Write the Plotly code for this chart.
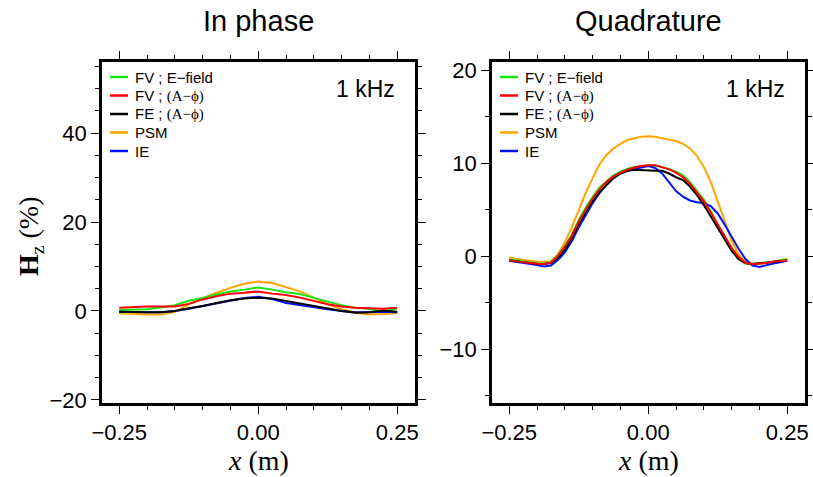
import plotly.graph_objects as go

# ---------------- data ----------------
series_names = ["FV ; E\u2212field",
                "FV ; <span style='font-family:Liberation Serif'>(A\u2212\u03d5)</span>",
                "FE ; <span style='font-family:Liberation Serif'>(A\u2212\u03d5)</span>",
                "PSM", "IE"]
series_colors = ["#14e614", "#ff0000", "#000000", "#ffa500", "#0010ff"]

x_inphase = [-0.25, -0.225, -0.2, -0.175, -0.15, -0.125, -0.1, -0.075, -0.05, -0.025, 0.0,
             0.025, 0.05, 0.075, 0.1, 0.125, 0.15, 0.175, 0.2, 0.225, 0.25]
inphase_fv_efield = [0.2, 0.3, 0.4, 0.8, 1.3, 2.3, 2.9, 3.7, 4.4, 4.8, 5.3,
                     4.8, 4.2, 3.8, 2.9, 2.1, 1.3, 0.7, 0.5, -0.2, 0.6]
inphase_fv_aphi = [0.75, 0.9, 1.0, 1.0, 1.0, 1.6, 2.6, 3.3, 3.9, 4.1, 4.4,
                   3.9, 3.6, 3.0, 2.3, 1.5, 1.0, 0.7, 0.6, 0.5, 0.75]
inphase_fe_aphi = [-0.2, -0.3, -0.3, -0.3, 0.0, 0.6, 1.1, 1.8, 2.4, 2.8, 3.0,
                   2.8, 2.3, 1.7, 1.1, 0.5, 0.0, -0.4, -0.3, 0.1, -0.2]
inphase_psm = [-0.5, -0.7, -0.8, -0.8, -0.2, 1.5, 2.9, 4.1, 5.2, 6.1, 6.6,
               6.3, 5.4, 4.4, 3.0, 1.5, 0.4, -0.4, -0.8, -0.7, -0.5]
inphase_ie = [-0.2, -0.3, -0.3, -0.3, 0.0, 0.5, 1.1, 1.8, 2.4, 2.9, 3.2,
              2.7, 1.8, 1.3, 0.9, 0.4, 0.0, -0.3, -0.3, -0.2, -0.3]

x_quad = [-0.25, -0.2375, -0.225, -0.2125, -0.2, -0.1875, -0.175, -0.1625, -0.15, -0.1375,
          -0.125, -0.1125, -0.1, -0.0875, -0.075, -0.0625, -0.05, -0.0375, -0.025, -0.0125,
          0.0, 0.0125, 0.025, 0.0375, 0.05, 0.0625, 0.075, 0.0875, 0.1, 0.1125,
          0.125, 0.1375, 0.15, 0.1625, 0.175, 0.1875, 0.2, 0.2125, 0.225, 0.2375, 0.25]
quad_fv_efield = [-0.35, -0.45, -0.6, -0.7, -0.75, -0.8, -0.65, 0.1, 1.1, 2.3,
                  3.9, 5.2, 6.4, 7.4, 8.1, 8.7, 9.1, 9.4, 9.6, 9.7,
                  9.8, 9.75, 9.6, 9.4, 9.1, 8.7, 8.0, 7.1, 6.1, 4.9,
                  3.3, 1.9, 0.6, -0.3, -0.8, -0.8, -0.75, -0.7, -0.6, -0.45, -0.35]
quad_fv_aphi = [-0.45, -0.55, -0.65, -0.75, -0.8, -0.85, -0.7, 0.0, 1.0, 2.2,
                3.7, 5.0, 6.2, 7.2, 8.0, 8.6, 9.0, 9.3, 9.55, 9.7,
                9.8, 9.8, 9.6, 9.35, 9.0, 8.5, 7.8, 6.9, 5.9, 4.7,
                3.4, 2.1, 0.9, -0.1, -0.7, -0.85, -0.8, -0.7, -0.6, -0.5, -0.45]
quad_fe_aphi = [-0.45, -0.55, -0.65, -0.75, -0.8, -0.85, -0.75, -0.2, 0.7, 1.9,
                3.4, 4.7, 5.9, 6.9, 7.7, 8.4, 8.9, 9.2, 9.3, 9.25,
                9.2, 9.2, 9.2, 8.9, 8.5, 8.2, 7.5, 6.6, 5.5, 4.3,
                3.1, 1.8, 0.6, -0.3, -0.75, -0.85, -0.8, -0.7, -0.6, -0.5, -0.45]
quad_psm = [-0.15, -0.3, -0.4, -0.5, -0.6, -0.6, -0.55, 0.2, 1.5, 3.1,
            5.0, 6.8, 8.4, 9.9, 10.9, 11.6, 12.1, 12.5, 12.7, 12.85,
            12.9, 12.85, 12.7, 12.55, 12.4, 12.1, 11.6, 10.8, 9.6, 8.0,
            6.0, 3.8, 1.7, 0.2, -0.6, -0.85, -0.8, -0.75, -0.6, -0.4, -0.3]
quad_ie = [-0.5, -0.6, -0.7, -0.8, -0.95, -1.1, -1.0, -0.4, 0.4, 1.6,
           3.1, 4.4, 5.7, 6.8, 7.7, 8.4, 8.9, 9.2, 9.4, 9.55,
           9.7, 9.5, 8.9, 7.9, 7.0, 6.4, 6.0, 5.8, 5.7, 5.4,
           4.6, 3.4, 2.1, 0.8, -0.3, -1.0, -1.15, -0.95, -0.8, -0.65, -0.5]

inphase_series = [inphase_fv_efield, inphase_fv_aphi, inphase_fe_aphi, inphase_psm, inphase_ie]
quad_series = [quad_fv_efield, quad_fv_aphi, quad_fe_aphi, quad_psm, quad_ie]

panel_titles = ["In phase", "Quadrature"]
freq_label = "1 kHz"
x_tick_vals = [-0.25, 0.0, 0.25]
left_y_ticks = [-20, 0, 20, 40]
right_y_ticks = [-10, 0, 10, 20]

# ---------------- figure ----------------
W, H = 813, 477
SANS = "Liberation Sans, Arial, Helvetica, sans-serif"
SERIF = "Liberation Serif, Times New Roman, serif"


def px_x(p):
    return p / W


def px_y(p):
    return 1 - p / H


fig = go.Figure()
draw_order = [3, 0, 4, 2, 1]  # orange under, red on top
for i in draw_order:
    fig.add_trace(go.Scatter(x=x_inphase, y=inphase_series[i], mode="lines",
                             line=dict(color=series_colors[i], width=2),
                             xaxis="x", yaxis="y", showlegend=False))
for i in draw_order:
    fig.add_trace(go.Scatter(x=x_quad, y=quad_series[i], mode="lines",
                             line=dict(color=series_colors[i], width=2),
                             xaxis="x2", yaxis="y2", showlegend=False))

ydom = [px_y(403), px_y(62)]
xdom1 = [px_x(102), px_x(415)]
xdom2 = [px_x(492), px_x(805)]

common_x = dict(range=[-0.281, 0.282], tickvals=x_tick_vals, tickformat=".2f",
                showline=True, linewidth=2.5, linecolor="black", mirror="allticks",
                ticks="outside", ticklen=8, tickwidth=1.2, tickcolor="black",
                minor=dict(dtick=0.05, tick0=0, ticks="outside", ticklen=4, tickwidth=1, tickcolor="black"),
                showgrid=False, zeroline=False, automargin=False,
                tickfont=dict(family=SANS, size=22, color="black"))
common_y = dict(showline=True, linewidth=2.5, linecolor="black", mirror="allticks",
                ticks="outside", ticklen=8, tickwidth=1.2, tickcolor="black",
                showgrid=False, zeroline=False, automargin=False,
                tickfont=dict(family=SANS, size=22, color="black"))

fig.update_layout(
    width=W, height=H,
    margin=dict(l=0, r=0, t=0, b=0),
    paper_bgcolor="white", plot_bgcolor="white",
    showlegend=False,
    xaxis=dict(domain=xdom1, anchor="y", **common_x),
    xaxis2=dict(domain=xdom2, anchor="y2", **common_x),
    yaxis=dict(domain=ydom, anchor="x", range=[-20.7, 56], tickvals=left_y_ticks,
               minor=dict(dtick=5, tick0=0, ticks="outside", ticklen=4, tickwidth=1, tickcolor="black"),
               **common_y),
    yaxis2=dict(domain=ydom, anchor="x2", range=[-15.8, 20.9], tickvals=right_y_ticks,
                minor=dict(dtick=5, tick0=0, ticks="outside", ticklen=4, tickwidth=1, tickcolor="black"),
                **common_y),
)

annotations = []
shapes = []
for k, (xd, xr, yr) in enumerate([(xdom1, "x", "y"), (xdom2, "x2", "y2")]):
    cx = (xd[0] + xd[1]) / 2
    # panel title
    annotations.append(dict(text=panel_titles[k], x=cx, y=px_y(21), xref="paper", yref="paper",
                            xanchor="center", yanchor="middle", showarrow=False,
                            font=dict(family=SANS, size=29, color="black")))
    # x axis title
    annotations.append(dict(text="<i>x</i> (m)", x=cx, y=px_y(460.5), xref="paper", yref="paper",
                            xanchor="center", yanchor="middle", showarrow=False,
                            font=dict(family=SERIF, size=28, color="black")))
    # frequency label
    annotations.append(dict(text=freq_label, x=0.25, y=px_y(89), xref=xr, yref="paper",
                            xanchor="right", yanchor="middle", showarrow=False,
                            font=dict(family=SANS, size=23, color="black")))
    # manual legend
    for j, name in enumerate(series_names):
        ypix = 77 + j * 18.5
        ypos = (403 - ypix) / 341
        shapes.append(dict(type="line", xref=xr + " domain", yref=yr + " domain",
                           x0=8 / 313, x1=26 / 313, y0=ypos, y1=ypos,
                           line=dict(color=series_colors[j], width=2.5)))
        annotations.append(dict(text=name, x=31 / 313, y=ypos, xref=xr + " domain", yref=yr + " domain",
                                xanchor="left", yanchor="middle", showarrow=False,
                                font=dict(family=SANS, size=15, color="black")))

# y axis title
annotations.append(dict(text="<b>H</b><sub>z</sub> (%)", x=px_x(30), y=px_y(237),
                        xref="paper", yref="paper", xanchor="center", yanchor="middle",
                        textangle=-90, showarrow=False,
                        font=dict(family=SERIF, size=28, color="black")))

fig.update_layout(annotations=annotations, shapes=shapes)
fig.write_html("out.html",
               config={"displayModeBar": False},
               post_script="document.body.style.margin='0';"
                           "document.documentElement.style.overflow='hidden';")
